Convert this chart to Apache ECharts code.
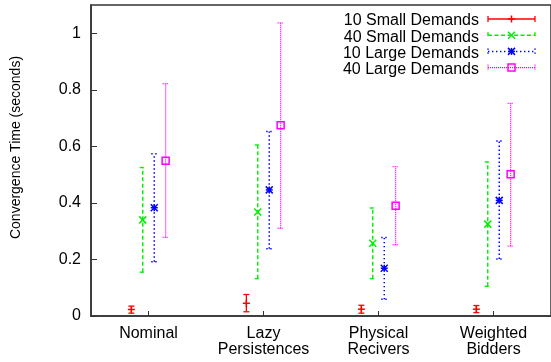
<!DOCTYPE html>
<html>
<head>
<meta charset="utf-8">
<script src="https://cdn.jsdelivr.net/npm/echarts@6/dist/echarts.min.js"></script>
<style>
  html, body { margin: 0; padding: 0; background: #fff; }
  #chart { width: 551px; height: 362px; }
</style>
</head>
<body>
<div id="chart"></div>
<script>
// ---- data ----
const categories = ['Nominal', 'Lazy\nPersistences', 'Physical\nRecivers', 'Weighted\nBidders'];
const seriesNames = ['10 Small Demands', '40 Small Demands', '10 Large Demands', '40 Large Demands'];
const yTicks = [0, 0.2, 0.4, 0.6, 0.8, 1];

const small10Mean = [0.023, 0.045, 0.024, 0.024];
const small10Low  = [0.010, 0.015, 0.010, 0.012];
const small10High = [0.035, 0.076, 0.038, 0.037];

const small40Mean = [0.340, 0.368, 0.257, 0.325];
const small40Low  = [0.155, 0.132, 0.132, 0.105];
const small40High = [0.525, 0.605, 0.382, 0.545];

const large10Mean = [0.383, 0.446, 0.169, 0.409];
const large10Low  = [0.192, 0.238, 0.059, 0.202];
const large10High = [0.574, 0.653, 0.278, 0.619];

const large40Mean = [0.549, 0.675, 0.390, 0.501];
const large40Low  = [0.278, 0.310, 0.252, 0.247];
const large40High = [0.822, 1.037, 0.528, 0.752];

// ---- styling ----
const groups = [
  { mean: small10Mean, low: small10Low, high: small10High, color: '#ff0000', dash: null, width: 1.3, marker: 'plus', offset: -0.149 },
  { mean: small40Mean, low: small40Low, high: small40High, color: '#00ee00', dash: [4, 2.5], width: 1.4, marker: 'cross', offset: -0.05 },
  { mean: large10Mean, low: large10Low, high: large10High, color: '#0000ff', dash: [1.4, 2.6], width: 1.5, marker: 'star', offset: 0.05 },
  { mean: large40Mean, low: large40Low, high: large40High, color: '#ff00ff', dash: [1, 1], width: 1.3, marker: 'square', offset: 0.149 }
];

function markerShapes(kind, x, y, color) {
  const st = { stroke: color, lineWidth: 1.5, fill: null };
  const r = 3.5;
  const ln = (x1, y1, x2, y2) => ({ type: 'line', shape: { x1, y1, x2, y2 }, style: st, silent: true });
  if (kind === 'plus') return [ln(x - r, y, x + r, y), ln(x, y - r, x, y + r)];
  if (kind === 'cross') return [ln(x - r, y - r, x + r, y + r), ln(x - r, y + r, x + r, y - r)];
  if (kind === 'star') return [ln(x - r, y, x + r, y), ln(x, y - r, x, y + r), ln(x - r, y - r, x + r, y + r), ln(x - r, y + r, x + r, y - r)];
  if (kind === 'square') return [{ type: 'rect', shape: { x: x - 3.5, y: y - 3.5, width: 7, height: 7 }, style: { stroke: color, lineWidth: 1.5, fill: null }, silent: true }];
  return [];
}

function makeRenderItem(g) {
  return function (params, api) {
    const cat = api.value(0);
    const pM = api.coord([cat, api.value(1)]);
    const pL = api.coord([cat, api.value(2)]);
    const pH = api.coord([cat, api.value(3)]);
    const band = api.size([1, 0])[0];
    const x = pM[0] + band * g.offset;
    const ls = { stroke: g.color, lineWidth: g.width, lineDash: g.dash, fill: null };
    const cap = 3;
    const children = [
      { type: 'line', shape: { x1: x, y1: pL[1], x2: x, y2: pH[1] }, style: ls },
      { type: 'line', shape: { x1: x - cap, y1: pL[1], x2: x + cap, y2: pL[1] }, style: ls },
      { type: 'line', shape: { x1: x - cap, y1: pH[1], x2: x + cap, y2: pH[1] }, style: ls }
    ].concat(markerShapes(g.marker, x, pM[1], g.color));
    return { type: 'group', children };
  };
}

const series = groups.map((g, i) => ({
  name: seriesNames[i],
  type: 'custom',
  renderItem: makeRenderItem(g),
  itemStyle: { color: g.color },
  encode: { x: 0, y: [1, 2, 3] },
  data: categories.map((c, k) => [k, g.mean[k], g.low[k], g.high[k]]),
  z: 10 - i
}));

// legend samples (line + caps + marker), drawn next to legend texts
const legendX1 = 488, legendX2 = 535, legendY0 = 19, legendStep = 16.2;
const legendGraphics = [];
groups.forEach((g, i) => {
  const y = legendY0 + i * legendStep;
  const ls = { stroke: g.color, lineWidth: g.width, lineDash: g.dash, fill: null };
  legendGraphics.push({ type: 'line', shape: { x1: legendX1, y1: y, x2: legendX2, y2: y }, style: ls, silent: true });
  legendGraphics.push({ type: 'line', shape: { x1: legendX1, y1: y - 3, x2: legendX1, y2: y + 3 }, style: ls, silent: true });
  legendGraphics.push({ type: 'line', shape: { x1: legendX2, y1: y - 3, x2: legendX2, y2: y + 3 }, style: ls, silent: true });
  markerShapes(g.marker, (legendX1 + legendX2) / 2, y, g.color).forEach(s => legendGraphics.push(s));
});

const font = 'Liberation Sans, Arial, Helvetica, sans-serif';
const chart = echarts.init(document.getElementById('chart'), null, { renderer: 'canvas' });
chart.setOption({
  animation: false,
  backgroundColor: '#ffffff',
  textStyle: { fontFamily: font },
  grid: { left: 91, top: 5, width: 464, bottom: 46, show: true, borderColor: '#333', borderWidth: 1.5, containLabel: false },
  legend: {
    data: seriesNames,
    orient: 'vertical',
    align: 'right',
    right: 16,
    top: 8,
    itemWidth: 46,
    itemHeight: 12,
    itemGap: 0.2,
    selectedMode: false,
    itemStyle: { opacity: 0 },
    textStyle: { fontSize: 16, color: '#000', fontFamily: font, lineHeight: 16 }
  },
  xAxis: {
    type: 'category',
    data: categories,
    boundaryGap: true,
    axisLine: { show: true, lineStyle: { color: '#333', width: 1.5 } },
    axisTick: { show: true, inside: true, alignWithLabel: true, length: 5, lineStyle: { color: '#333', width: 1 } },
    axisLabel: { interval: 0, fontSize: 16, color: '#000', lineHeight: 16, margin: 10, fontFamily: font },
    splitLine: { show: false }
  },
  yAxis: {
    type: 'value',
    min: 0,
    max: 1.1,
    interval: 0.2,
    name: 'Convergence Time (seconds)',
    nameLocation: 'middle',
    nameGap: 67,
    nameTextStyle: { fontSize: 14, color: '#000', fontFamily: font, lineHeight: 16, padding: [0, 0, 0, 26] },
    axisLine: { show: true, lineStyle: { color: '#333', width: 1.5 } },
    axisTick: { show: true, inside: true, length: 6, lineStyle: { color: '#333', width: 1 } },
    axisLabel: {
      fontSize: 16, color: '#000', margin: 10, fontFamily: font, showMaxLabel: false,
      formatter: v => (yTicks.some(t => Math.abs(t - v) < 1e-9) ? String(+v.toFixed(1)) : '')
    },
    splitLine: { show: false }
  },
  graphic: legendGraphics,
  series
});
</script>
</body>
</html>
